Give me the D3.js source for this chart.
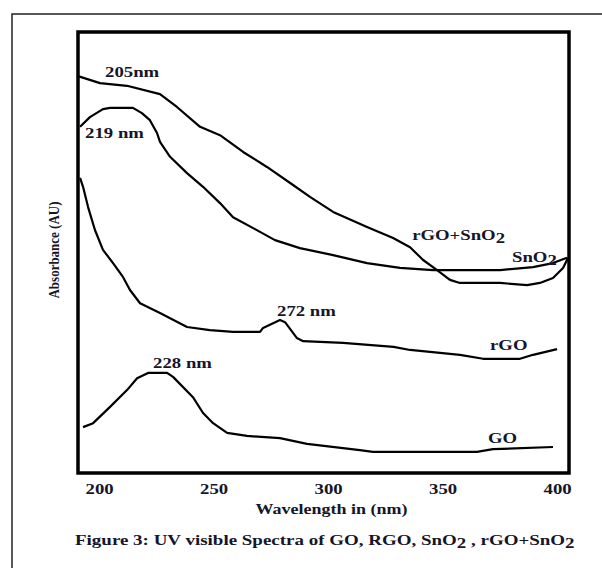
<!DOCTYPE html>
<html lang="en">
<head>
  <meta charset="UTF-8">
  <title>UV visible Spectra of GO, RGO, SnO2, rGO+SnO2</title>
  <script src="https://d3js.org/d3.v7.min.js"></script>
  <style>
    body {
      margin: 0;
      background: #fff;
    }
    text {
      font-family: "Liberation Serif", "Times New Roman", serif;
      fill: #16162a;
    }
    .lbl {
      font-weight: bold;
      font-size: 15px;
    }
    .curve {
      fill: none;
      stroke: #000;
      stroke-width: 2.2;
      stroke-linejoin: round;
    }
  </style>
</head>
<body>
  <svg width="602" height="568"></svg>

  <script>
    // wavelength (nm) / absorbance (arbitrary units)
    const rgoSno2 = [
      [190.8, 0.900], [200.4, 0.884], [212.2, 0.878], [226.6, 0.859], [234.0, 0.830],
      [244.1, 0.785], [252.8, 0.766], [262.9, 0.728], [273.3, 0.694], [284.7, 0.653],
      [292.1, 0.626], [302.2, 0.592], [317.0, 0.558], [328.4, 0.533], [335.8, 0.512],
      [341.5, 0.483], [347.6, 0.460], [353.2, 0.438], [357.6, 0.431], [375.1, 0.431],
      [386.9, 0.426], [392.5, 0.431], [398.2, 0.442], [402.6, 0.465], [404.8, 0.488]
    ];
    const sno2 = [
      [191.7, 0.785], [196.0, 0.807], [201.7, 0.825], [204.8, 0.828], [214.8, 0.828],
      [218.7, 0.816], [222.2, 0.800], [225.3, 0.771], [226.6, 0.751], [231.0, 0.717],
      [238.4, 0.680], [245.4, 0.649], [252.8, 0.612], [258.5, 0.580], [268.1, 0.553],
      [276.8, 0.528], [287.7, 0.510], [302.2, 0.494], [317.0, 0.476], [331.4, 0.465],
      [345.8, 0.460], [375.1, 0.460], [389.5, 0.467], [398.2, 0.476], [404.3, 0.488]
    ];
    const rgo = [
      [191.7, 0.669], [193.0, 0.649], [195.2, 0.603], [198.2, 0.551], [201.7, 0.506],
      [206.1, 0.476], [210.5, 0.444], [213.5, 0.415], [217.9, 0.385], [226.6, 0.363],
      [238.4, 0.331], [248.4, 0.324], [258.5, 0.320], [270.3, 0.320], [271.6, 0.329],
      [279.0, 0.347], [281.2, 0.342], [286.4, 0.306], [289.1, 0.299], [306.5, 0.295],
      [328.6, 0.286], [335.8, 0.279], [357.6, 0.268], [367.7, 0.259], [383.8, 0.259],
      [389.5, 0.268], [400.0, 0.281]
    ];
    const go = [
      [193.0, 0.104], [197.4, 0.113], [204.8, 0.150], [212.2, 0.188], [216.6, 0.215],
      [221.4, 0.227], [229.7, 0.227], [232.3, 0.218], [241.0, 0.172], [245.4, 0.136],
      [249.8, 0.113], [255.9, 0.091], [264.6, 0.084], [279.0, 0.079], [290.8, 0.066],
      [313.9, 0.052], [319.6, 0.048], [365.0, 0.048], [372.0, 0.054], [398.2, 0.059]
    ];
    const xTicks = [200, 250, 300, 350, 400];

    // annotations: text, subscript, wavelength, absorbance (baseline-left)
    const notes = [
      ["205nm", "", 202.6, 0.898],
      ["219 nm", "", 193.9, 0.760],
      ["272 nm", "", 277.7, 0.356],
      ["228 nm", "", 223.6, 0.238],
      ["rGO+SnO", "2", 336.7, 0.528],
      ["SnO", "2", 380.3, 0.478],
      ["rGO", "", 370.7, 0.279],
      ["GO", "", 369.8, 0.068]
    ];

    const svg = d3.select("svg");
    const plot = {left: 78, right: 569, top: 32, bottom: 473};

    // page frame (cropped)
    svg.append("path")
      .attr("d", "M12,568 V14 H602")
      .attr("fill", "none")
      .attr("stroke", "#222")
      .attr("stroke-width", 1.5);

    const x = d3.scaleLinear().domain([190.8, 405.2]).range([plot.left, plot.right]);
    const y = d3.scaleLinear().domain([0, 1]).range([plot.bottom, plot.top]);

    const line = d3.line().x(d => x(d[0])).y(d => y(d[1]));

    [rgoSno2, sno2, rgo, go].forEach(s => {
      svg.append("path").attr("class", "curve").attr("d", line(s));
    });

    // plot box
    svg.append("rect")
      .attr("x", plot.left).attr("y", plot.top)
      .attr("width", plot.right - plot.left).attr("height", plot.bottom - plot.top)
      .attr("fill", "none").attr("stroke", "#000").attr("stroke-width", 3.5);

    // x axis labels only
    const ax = svg.append("g")
      .attr("transform", `translate(0,${plot.bottom})`)
      .call(d3.axisBottom(x).tickValues(xTicks).tickSize(0).tickPadding(10));
    ax.select(".domain").remove();
    ax.selectAll("text")
      .attr("class", "lbl")
      .attr("transform", "scale(1.25,1)")
      .attr("fill", "#16162a")
      .style("font-family", "'Liberation Serif', serif");

    // annotations
    notes.forEach(([t, sub, w, a]) => {
      const txt = svg.append("text")
        .attr("class", "lbl")
        .attr("transform", `translate(${x(w)},${y(a)}) scale(1.25,1)`);
      txt.append("tspan").text(t);
      if (sub) txt.append("tspan").attr("dy", 3).text(sub);
    });

    // axis titles
    svg.append("text")
      .attr("class", "lbl")
      .attr("text-anchor", "middle")
      .attr("transform", `translate(${(plot.left + plot.right) / 2 + 8},514) scale(1.2,1)`)
      .text("Wavelength in (nm)");

    svg.append("text")
      .attr("text-anchor", "middle")
      .style("font-size", "13px")
      .style("font-weight", "bold")
      .attr("transform", "translate(59,250) rotate(-90) scale(1,1.2)")
      .text("Absorbance (AU)");

    // caption
    const cap = svg.append("text")
      .attr("class", "lbl")
      .attr("transform", "translate(75,545) scale(1.265,1)");
    cap.append("tspan").text("Figure 3: UV visible Spectra of GO, RGO, SnO");
    cap.append("tspan").attr("dy", 3).text("2");
    cap.append("tspan").attr("dy", -3).text(" , rGO+SnO");
    cap.append("tspan").attr("dy", 3).text("2");
  </script>
</body>
</html>
